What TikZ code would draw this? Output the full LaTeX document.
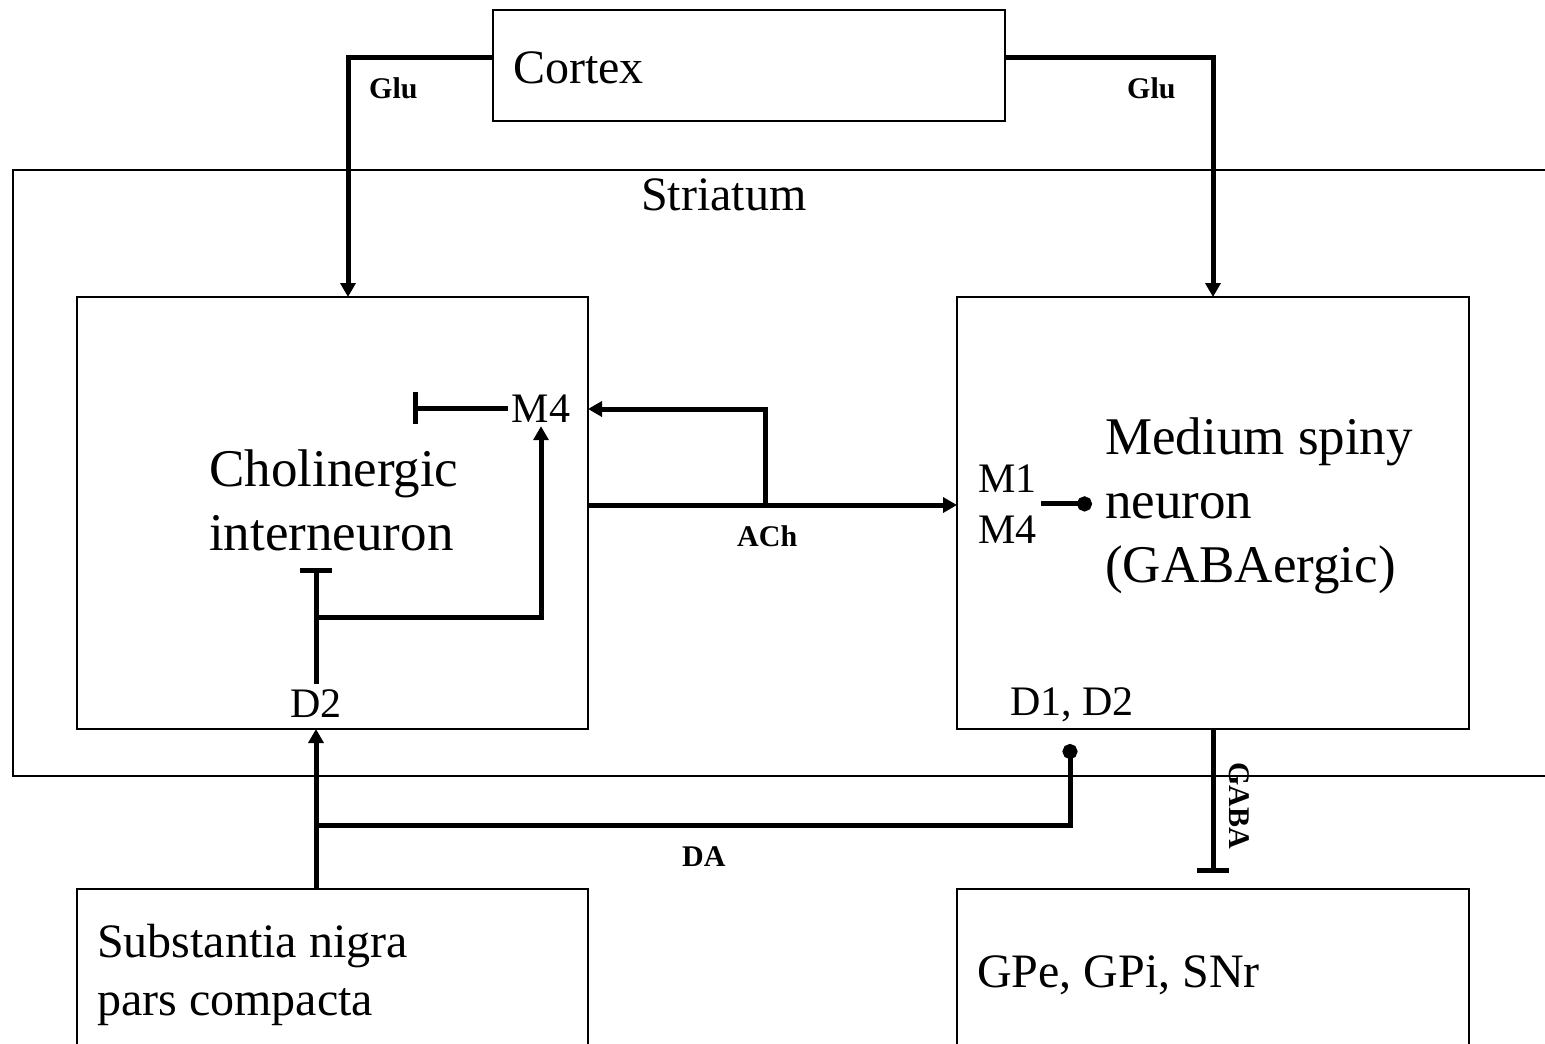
\documentclass[tikz,border=0pt]{standalone}
\usepackage{fontspec}
\setmainfont{Liberation Serif}
\usetikzlibrary{arrows.meta,calc}
\begin{document}
\begin{tikzpicture}[x=1pt,y=-1pt,
  box/.style={draw,line width=2.6pt,inner sep=0pt,outer sep=0pt},
  conn/.style={line width=5pt},
  arr/.style={conn,-{Triangle[length=14pt,width=15pt]}},
  inh/.style={conn,-{Bar[width=32pt]}},
  dotend/.style={conn,-{Circle[length=15pt]}},
  bigtxt/.style={inner sep=0pt,align=left,font=\fontsize{53}{63.6}\selectfont},
  medtxt/.style={inner sep=0pt,align=left,font=\fontsize{48}{57.6}\selectfont},
  smalltxt/.style={inner sep=0pt,align=left,font=\fontsize{42}{50.5}\selectfont},
  nttxt/.style={inner sep=0pt,font=\fontsize{30}{36}\selectfont\bfseries},
]
\useasboundingbox (0,0) rectangle (1545,1044);

% boxes
\node[box,minimum width=512pt,minimum height=111pt] (cortex) at (749,65.5) {};
\node[box,anchor=north west,minimum width=1620pt,minimum height=606pt] (striatum) at (13,170) {};
\node[box,minimum width=511pt,minimum height=432pt] (chol) at (332.5,513) {};
\node[box,minimum width=512pt,minimum height=432pt] (msn) at (1213,513) {};
\node[box,anchor=north west,minimum width=511pt,minimum height=240pt] (snc) at (77,889) {};
\node[box,anchor=north west,minimum width=512pt,minimum height=240pt] (gp) at (957,889) {};

% texts (base anchor of a multi-line node = baseline of its last line)
\node[medtxt,anchor=base west] (cortexT) at (513,83) {Cortex};
\node[medtxt,anchor=base west] (striatumT) at (641,210) {Striatum};
\node[bigtxt,anchor=base west] (cholT) at (209,550) {Cholinergic\\interneuron};
\node[bigtxt,anchor=base west] (msnT) at (1105,582) {Medium spiny\\neuron\\(GABAergic)};
\node[medtxt,anchor=base west] (sncT) at (97,1015) {Substantia nigra\\pars compacta};
\node[medtxt,anchor=base west] (gpT) at (977,987) {GPe, GPi, SNr};
\node[smalltxt,anchor=base] (m4a) at (541,422) {M4};
\node[smalltxt,anchor=base west] (m1m4) at (978,543) {M1\\M4};
\node[smalltxt,anchor=base] (d2a) at (316,717) {D2};
\node[smalltxt,anchor=base west] (d1d2) at (1010,715) {D1, D2};
\node[nttxt,anchor=base west] (gluL) at (369,98) {Glu};
\node[nttxt,anchor=base west] (gluR) at (1127,98) {Glu};
\node[nttxt,anchor=base west] (ach) at (737,546) {ACh};
\node[nttxt,anchor=base west] (da) at (682,866) {DA};
\node[nttxt,anchor=base west,rotate=-90] (gaba) at (1229,762) {GABA};

% junction / free-end coordinates
\coordinate (achsplit) at (765,505);
\coordinate (m4inh) at (413,409);
\coordinate (d2inh) at (316,568);
\coordinate (d2split) at (316,617);
\coordinate (dasplit) at (316,825);
\coordinate (dadot) at (1070,744);
\coordinate (msndot) at (1092,505);

% connectors
\draw[arr] ([yshift=8.5pt]cortex.west) -| ([xshift=271pt]chol.north west);
\draw[arr] ([yshift=8.5pt]cortex.east) -| (msn.north);
\draw[arr] ([yshift=8pt]chol.east) -- ([yshift=8pt]msn.west);
\draw[arr] (achsplit) |- ([yshift=104pt]chol.east);
\draw[inh] ([xshift=-4pt]m4a.west) -- (m4a.west -| m4inh);
\draw[inh] ([yshift=5pt]d2a.north) -- (d2inh);
\draw[arr] (d2split) -| ([yshift=-4pt]m4a.south);
\draw[arr] (snc.north -| d2split) -- (chol.south -| d2split);
\draw[dotend] (dasplit) -| (dadot);
\draw[dotend] ([xshift=4pt]m1m4.east) -- (m1m4.east -| msndot);
\draw[inh] (msn.south) -- ([yshift=16pt]gp.north);
\end{tikzpicture}
\end{document}
